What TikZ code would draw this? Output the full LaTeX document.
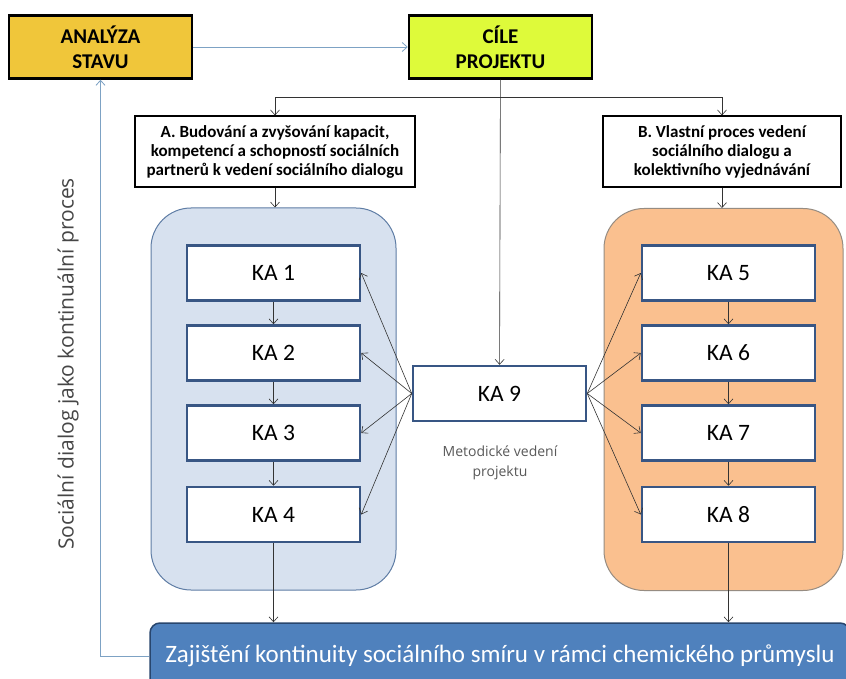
\documentclass[tikz,border=0pt]{standalone}
\usepackage{fontspec}
\setmainfont{Carlito}
\newfontfamily\sidefont{Open Sans}
\usetikzlibrary{arrows.meta}
\definecolor{gold}{RGB}{240,198,58}
\definecolor{lime}{RGB}{222,250,58}
\definecolor{paleblue}{RGB}{215,225,239}
\definecolor{blueedge}{RGB}{95,125,165}
\definecolor{paleorange}{RGB}{250,192,143}
\definecolor{orangeedge}{RGB}{150,140,130}
\definecolor{kaedge}{RGB}{56,86,132}
\definecolor{barblue}{RGB}{79,129,189}
\definecolor{baredge}{RGB}{40,70,110}
\definecolor{linkblue}{RGB}{125,162,196}
\definecolor{sidegrey}{RGB}{70,70,70}

\begin{document}
\begin{tikzpicture}[x=1pt, y=-1pt,
  head/.style={draw=black, line width=2.5pt, minimum width=183pt, minimum height=63pt,
    inner sep=0pt, align=center, font=\fontsize{21}{25}\selectfont\bfseries},
  goal/.style={draw=black, line width=1.2pt, fill=white, minimum height=71pt,
    inner sep=0pt, align=center, font=\fontsize{17}{19}\selectfont\bfseries},
  group/.style={rounded corners=40pt, line width=1pt, minimum height=382pt},
  ka/.style={draw=kaedge, line width=2.5pt, fill=white, minimum width=173pt,
    minimum height=55pt, inner sep=0pt, font=\fontsize{23.5}{27}\selectfont},
  arr/.style={-{Straight Barb[length=5pt,width=9pt]}, line width=0.6pt, black!80},
  link/.style={-{Straight Barb[length=5pt,width=9pt]}, line width=0.8pt, linkblue}]
\fill[white] (0,0) rectangle (846,679);
\useasboundingbox (0,0) rectangle (846,679);

\node[head, fill=gold] (analyza) at (100.5,47) {ANALÝZA\\STAVU};
\node[head, fill=lime] (cile) at (500.5,47) {CÍLE\\PROJEKTU};

\node[goal, minimum width=280pt] (boxa) at (275,151.5)
  {A. Budování a zvyšování kapacit,\\kompetencí a schopností sociálních\\partnerů k vedení sociálního dialogu};
\node[goal, minimum width=238pt] (boxb) at (722,151.5)
  {B. Vlastní proces vedení\\sociálního dialogu a\\kolektivního vyjednávání};

\node[group, draw=blueedge, fill=paleblue, minimum width=245pt] (blue) at (273.5,399) {};
\node[group, draw=orangeedge, fill=paleorange, minimum width=239pt] (orange) at (723.5,399.5) {};

\node[ka] (ka1) at (273.5,273) {KA 1};
\node[ka] (ka2) at (273.5,353) {KA 2};
\node[ka] (ka3) at (273.5,433) {KA 3};
\node[ka] (ka4) at (273.5,514.5) {KA 4};
\node[ka] (ka5) at (728.5,273) {KA 5};
\node[ka] (ka6) at (728.5,353) {KA 6};
\node[ka] (ka7) at (728.5,433) {KA 7};
\node[ka] (ka8) at (728.5,514.5) {KA 8};
\node[ka] (ka9) at (499.5,393.5) {KA 9};

\node[align=center, text=black!65, font=\sidefont\fontsize{14}{20}\selectfont] (metod) at (500,463)
  {Metodické vedení\\projektu};

\node[rotate=90, text=sidegrey, font=\sidefont\fontsize{21}{25}\selectfont] (side) at (68,364)
  {Sociální dialog jako kontinuální proces};

\node[draw=baredge, line width=1.5pt, fill=barblue, rounded corners=10pt, minimum width=700pt,
  minimum height=66pt, text=white, font=\fontsize{25}{29}\selectfont] (bar) at (500,656)
  {Zajištění kontinuity sociálního smíru v rámci chemického průmyslu};

\coordinate (fork) at (500,97);
\draw[link] (analyza) -- (cile);
\draw[link] (bar.west) -| (analyza.south);
\draw[arr] (cile) -- (ka9);
\draw[arr] (fork) -| (boxa);
\draw[arr] (fork) -| (boxb);
\draw[arr] (boxa.south) -- (boxa.south |- blue.north);
\draw[arr] (boxb.south) -- (boxb.south |- orange.north);
\foreach \a/\b in {1/2,2/3,3/4,5/6,6/7,7/8}
  \draw[arr] (ka\a) -- (ka\b);
\foreach \k in {1,...,4}
  \draw[arr] (ka9.west) -- (ka\k.east);
\foreach \k in {5,...,8}
  \draw[arr] (ka9.east) -- (ka\k.west);
\draw[arr] (ka4) -- (ka4 |- bar.north);
\draw[arr] (ka8) -- (ka8 |- bar.north);
\end{tikzpicture}
\end{document}
